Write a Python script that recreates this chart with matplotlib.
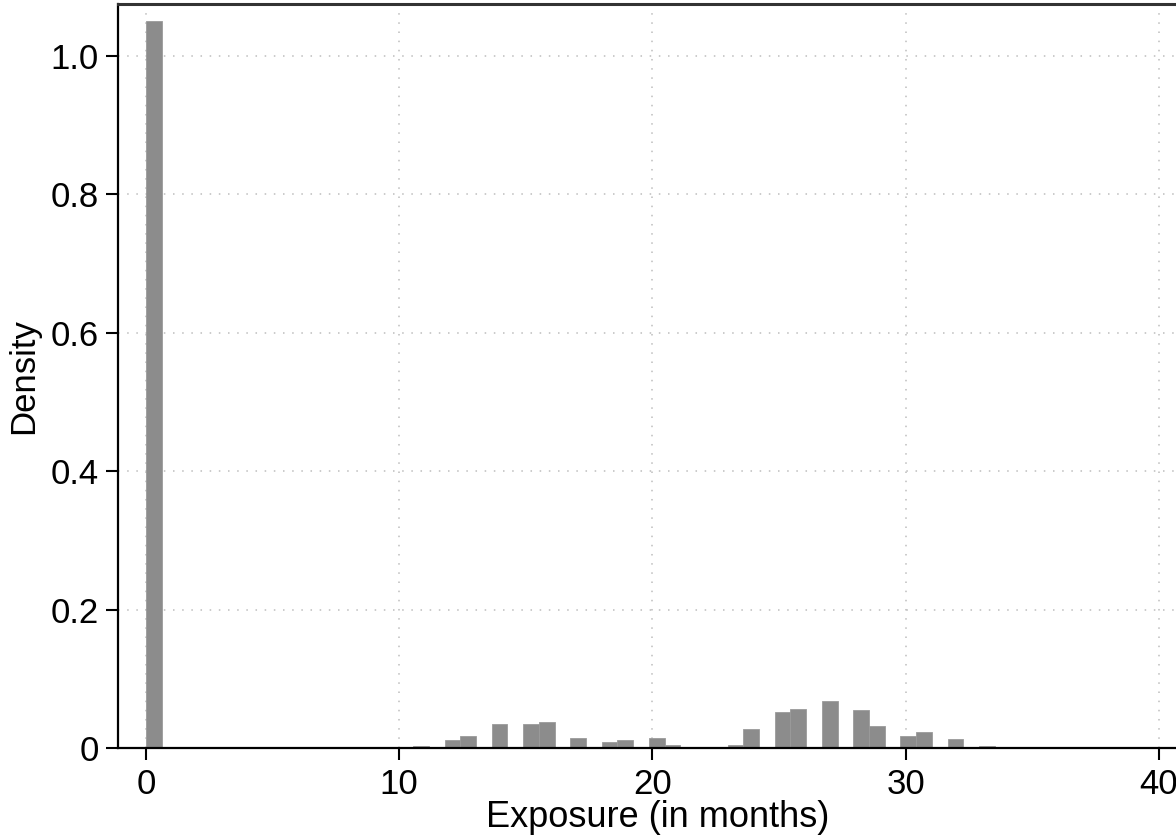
import numpy as np
import matplotlib.pyplot as plt

plt.rcParams['font.family'] = ['Liberation Sans', 'DejaVu Sans']

# histogram of exposure, 58 bins over 0..36 months
x_max = 36.0
n_bins = 58
density = [1.051, 0.002, 0, 0, 0, 0, 0, 0, 0, 0,
           0, 0, 0, 0, 0, 0, 0, 0.003, 0, 0.011,
           0.018, 0, 0.034, 0, 0.035, 0.038, 0, 0.014, 0, 0.009,
           0.011, 0, 0.0145, 0.0045, 0, 0.002, 0, 0.0045, 0.028, 0,
           0.052, 0.056, 0, 0.068, 0, 0.055, 0.032, 0, 0.017, 0.0235,
           0, 0.013, 0, 0.003, 0.001, 0, 0.001, 0.001]
x_ticks = [0, 10, 20, 30, 40]
y_ticks = [0, 0.2, 0.4, 0.6, 0.8, 1.0]
y_ticklabels = ['0', '0.2', '0.4', '0.6', '0.8', '1.0']

w = x_max / n_bins
lefts = np.arange(n_bins) * w

fig = plt.figure(figsize=(11.76, 8.4), dpi=100)
ax = fig.add_axes([118/1176, 92/840, 1079/1176, 744.5/840])

ax.bar(lefts, density, width=w, align='edge', color='#8c8c8c',
       edgecolor='#9a9a9a', linewidth=0.6, zorder=2)

ax.set_xlim(-1.1, 41.5)
ax.set_ylim(0, 1.076)
ax.set_xticks(x_ticks)
ax.set_yticks(y_ticks)
ax.set_yticklabels(y_ticklabels)
ax.grid(True, color='#bdbdbd', linestyle=(0, (1, 5)), linewidth=1.1, zorder=0)
ax.set_axisbelow(True)

for s in ['left', 'bottom']:
    ax.spines[s].set_linewidth(1.6)
    ax.spines[s].set_color('black')
ax.spines['top'].set_linewidth(2.2)
ax.spines['top'].set_color('#333333')
ax.spines['right'].set_visible(False)
ax.tick_params(axis='both', length=8.6, width=1.5, labelsize=25)
ax.tick_params(axis='y', pad=5)
ax.tick_params(axis='x', pad=6)

ax.set_xlabel('Exposure (in months)', fontsize=26, labelpad=-1)
ax.set_ylabel('Density', fontsize=25, labelpad=8)

fig.savefig('out.png', dpi=100)
